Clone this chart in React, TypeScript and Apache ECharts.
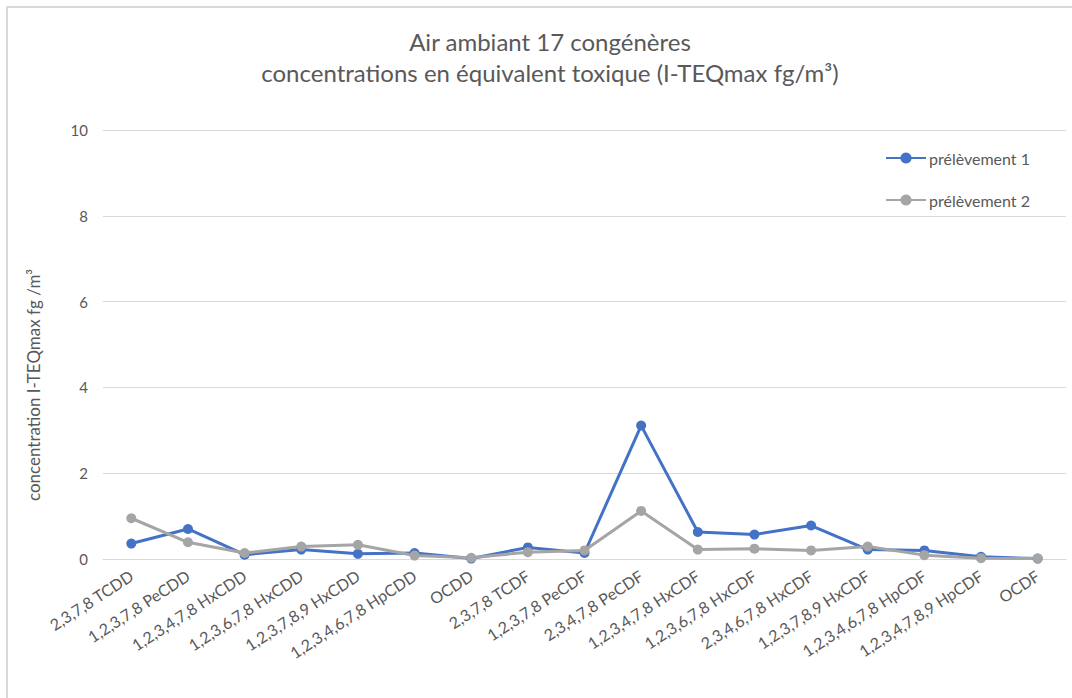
import React, { useEffect, useRef } from "react";
import * as echarts from "echarts";

const categories = [
  "2,3,7,8 TCDD",
  "1,2,3,7,8 PeCDD",
  "1,2,3,4,7,8 HxCDD",
  "1,2,3,6,7,8 HxCDD",
  "1,2,3,7,8,9 HxCDD",
  "1,2,3,4,6,7,8 HpCDD",
  "OCDD",
  "2,3,7,8 TCDF",
  "1,2,3,7,8 PeCDF",
  "2,3,4,7,8 PeCDF",
  "1,2,3,4,7,8 HxCDF",
  "1,2,3,6,7,8 HxCDF",
  "2,3,4,6,7,8 HxCDF",
  "1,2,3,7,8,9 HxCDF",
  "1,2,3,4,6,7,8 HpCDF",
  "1,2,3,4,7,8,9 HpCDF",
  "OCDF",
];

const prelevement1 = [0.36, 0.7, 0.1, 0.22, 0.12, 0.14, 0.01, 0.27, 0.14, 3.11, 0.63, 0.57, 0.78, 0.22, 0.2, 0.05, 0.01];
const prelevement2 = [0.95, 0.39, 0.14, 0.29, 0.33, 0.08, 0.03, 0.16, 0.2, 1.12, 0.22, 0.24, 0.2, 0.29, 0.09, 0.02, 0.01];

const seriesNames = ["prélèvement 1", "prélèvement 2"];
const titleLines = ["Air ambiant 17 congénères", "concentrations en équivalent toxique (I-TEQmax fg/m³)"];
const yAxisTitle = "concentration I-TEQmax fg /m³";

const FONT = "Lato, 'Open Sans', sans-serif";
const TXT = "#595959";

export default function App() {
  const ref = useRef<HTMLDivElement>(null);
  useEffect(() => {
    if (!ref.current) return;
    const chart = echarts.init(ref.current, null, { renderer: "svg" });
    chart.setOption({
      animation: false,
      backgroundColor: "#ffffff",
      textStyle: { fontFamily: FONT },
      title: {
        text: titleLines.join("\n"),
        left: 545,
        textAlign: "center",
        top: 21,
        textStyle: {
          fontFamily: FONT,
          fontSize: 24,
          fontWeight: "normal",
          color: TXT,
          lineHeight: 31,
        },
      },
      legend: {
        orient: "vertical",
        left: 880,
        top: 145,
        itemWidth: 40,
        itemHeight: 14,
        itemGap: 26,
        textStyle: { fontFamily: FONT, fontSize: 16, color: TXT, padding: [0, 0, 0, -2] },
        data: seriesNames,
      },
      graphic: [
        {
          type: "rect",
          shape: { x: 7, y: 7, width: 1200, height: 800 },
          style: { fill: "none", stroke: "#d9d9d9", lineWidth: 2 },
          silent: true,
        },
        {
          type: "text",
          x: 33,
          y: 385,
          rotation: Math.PI / 2,
          style: {
            text: yAxisTitle,
            fontFamily: FONT,
            fontSize: 17,
            fill: TXT,
            textAlign: "center",
            textVerticalAlign: "middle",
          },
        },
      ],
      grid: { left: 103, right: 6, top: 130, bottom: 139, containLabel: false },
      xAxis: {
        type: "category",
        data: categories,
        boundaryGap: true,
        axisLine: { lineStyle: { color: "#d9d9d9", width: 1 } },
        axisTick: { show: false },
        axisLabel: {
          interval: 0,
          rotate: 33,
          margin: 15,
          fontFamily: FONT,
          fontSize: 16,
          color: TXT,
        },
      },
      yAxis: {
        type: "value",
        min: 0,
        max: 10,
        interval: 2,
        axisLine: { show: false },
        axisTick: { show: false },
        splitLine: { lineStyle: { color: "#d9d9d9", width: 1 } },
        axisLabel: { margin: 15, fontFamily: FONT, fontSize: 15, color: TXT },
      },
      series: [
        {
          name: seriesNames[0],
          type: "line",
          data: prelevement1,
          symbol: "circle",
          symbolSize: 10,
          color: "#4472C4",
          lineStyle: { width: 3, color: "#4472C4" },
          itemStyle: { color: "#4472C4" },
        },
        {
          name: seriesNames[1],
          type: "line",
          data: prelevement2,
          symbol: "circle",
          symbolSize: 10,
          color: "#A5A5A5",
          lineStyle: { width: 3, color: "#A5A5A5" },
          itemStyle: { color: "#A5A5A5" },
        },
      ],
    });
    return () => chart.dispose();
  }, []);
  return (
    <div
      ref={ref}
      style={{ position: "fixed", left: 0, top: 0, width: 1072, height: 698 }}
    />
  );
}
